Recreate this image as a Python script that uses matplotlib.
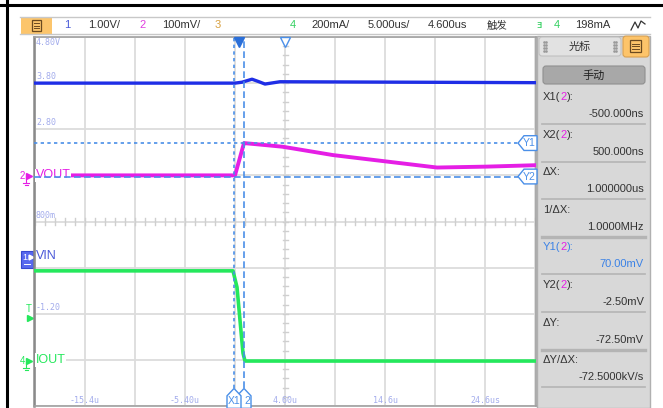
import numpy as np
import matplotlib
matplotlib.use('Agg')
import matplotlib.pyplot as plt
from matplotlib.patches import Rectangle, FancyBboxPatch, Polygon

W, H = 663, 408
NARROW = ['Liberation Sans Narrow', 'Liberation Sans', 'DejaVu Sans']
CJK = ['Noto Sans CJK SC', 'DejaVu Sans']
MONO = ['DejaVu Sans Mono']

# scope settings
t_per_div = 5.0          # us/div
t_delay = 4.6            # us, centre of screen
ch1_scale, ch1_pos = 1.0, -0.8     # V/div, ground position (div)
ch2_scale, ch2_pos = 100.0, 1.0    # mV/div
ch4_scale, ch4_pos = 200.0, -3.0   # mA/div
trig_level = 198.0                 # mA

# traces (time in us)
vin_t = [-20.4, -0.4, 0.3, 1.3, 2.0, 2.6, 4.1, 29.6]
vin_v = [3.80, 3.80, 3.82, 3.885, 3.83, 3.78, 3.83, 3.81]
vout_t = [-17.4, -0.4, 0.5, 2.0, 4.4, 9.4, 14.4, 19.8, 24.8, 29.6]
vout_mv = [0.0, 0.0, 70.0, 67.0, 62.0, 44.0, 31.0, 17.0, 19.0, 22.0]
iout_t = [-20.4, -0.6, -0.2, 0.1, 0.4, 0.6, 29.6]
iout_ma = [386.0, 386.0, 315.0, 172.0, 29.0, -5.0, -5.0]

# cursors
x1_us, x2_us = -0.5, 0.5
y1_mv, y2_mv = 70.0, -2.5

ch1_labels = ['4.80V', '3.80', '2.80', '800m', '-1.20']
ch1_label_div = [4, 3, 2, 0, -2]
time_labels = ['-15.4u', '-5.40u', '4.60u', '14.6u', '24.6us']

toolbar_text = ['1', '1.00V/', '2', '100mV/', '3', '4', '200mA/', '5.000us/', '4.600us', '4', '198mA']
toolbar_x = [67, 104, 143, 181, 218, 293, 331, 389, 447, 557, 593]
toolbar_col = ['#4b5bd8', '#333333', '#e03ee0', '#333333', '#d8a040', '#33d060',
               '#333333', '#333333', '#333333', '#33d060', '#333333']

cursor_names = ['X1', 'X2', 'ΔX:', '1/ΔX:', 'Y1', 'Y2', 'ΔY:', 'ΔY/ΔX:']
cursor_values = ['-500.000ns', '500.000ns', '1.000000us', '1.0000MHz',
                 '70.00mV', '-2.50mV', '-72.50mV', '-72.5000kV/s']

BLUE1 = '#1f2ee6'
MAG = '#e51ee5'
GREEN = '#25e85c'
CUR = '#4a8fe8'
LAV = '#a3acec'


def px2t(px):
    return t_delay - 5 * t_per_div + (px - 35) / 10.0


fig = plt.figure(figsize=(W / 100, H / 100), dpi=100)
fig.patch.set_facecolor('white')
renderer = fig.canvas.get_renderer()

# ---- overlay in pixel coordinates
ov = fig.add_axes([0, 0, 1, 1])
ov.set_xlim(0, W)
ov.set_ylim(H, 0)
ov.axis('off')

# frame lines of the page
ov.plot([0, W], [5, 5], color='black', lw=2.2)
ov.plot([7, 7], [0, H], color='black', lw=2.2)

# toolbar
ov.plot([20, 650], [17, 17], color='#c8c8c8', lw=1)
ov.plot([20, 650], [34, 34], color='#c8c8c8', lw=1)
ov.add_patch(Rectangle((21, 17), 31, 17, fc='#fcc56c', ec='none'))
ov.add_patch(Rectangle((32, 20), 9, 11, fc='none', ec='#6b4a20', lw=0.9))
for yy in (23, 25.5, 28):
    ov.plot([34, 39], [yy, yy], color='#6b4a20', lw=0.7)
for s, x, c in zip(toolbar_text, toolbar_x, toolbar_col):
    ov.text(x, 25.5, s, color=c, fontsize=8, family=NARROW, ha='center', va='center')
ov.text(497, 25.5, '触发', color='#333333', fontsize=7.5, family=CJK, ha='center', va='center')
ov.text(539, 25.5, 'ⱻ', color='#33d060', fontsize=8, family=['DejaVu Sans'], ha='center', va='center')
ov.plot([631, 635, 638, 641, 645], [30, 22, 28, 21, 24], color='#333333', lw=0.9)

# side panel
ov.add_patch(Rectangle((537, 36), 113, H - 36, fc='#d8d8d8', ec='#b0b0b0', lw=1))
ov.add_patch(FancyBboxPatch((539, 37), 82, 19, boxstyle='round,pad=0,rounding_size=3',
                            fc='#e2e2e2', ec='#c0c0c0', lw=0.8))
ov.add_patch(FancyBboxPatch((623, 36), 26, 21, boxstyle='round,pad=0,rounding_size=3',
                            fc='#fdc46a', ec='#d8a050', lw=0.8))
ov.add_patch(Rectangle((630, 40), 11, 12, fc='none', ec='#6b4a20', lw=0.9))
for yy in (43.5, 46, 48.5):
    ov.plot([632, 639], [yy, yy], color='#6b4a20', lw=0.7)
ov.text(580, 47, '光标', color='#333333', fontsize=8, family=CJK, ha='center', va='center')
for gx in (544, 614):
    for gy in (42, 45, 48, 51):
        ov.plot([gx, gx + 2], [gy, gy], ls='none', marker='s', ms=0.8, color='#999999')
ov.add_patch(FancyBboxPatch((543, 66), 102, 18, boxstyle='round,pad=0,rounding_size=3',
                            fc='#a8a8a8', ec='#909090', lw=0.8))
ov.text(594, 75.5, '手动', color='#222222', fontsize=8, family=CJK, ha='center', va='center')

row0 = 97
row_h = 37.6
for i, (nm, val) in enumerate(zip(cursor_names, cursor_values)):
    yl = row0 + i * row_h
    col = '#3b82e6' if i == 4 else '#333333'
    if nm in ('X1', 'X2', 'Y1', 'Y2'):
        x = 543
        for part, c in ((nm + '(', col), ('2', MAG), ('):', col)):
            tx = ov.text(x, yl, part, color=c, fontsize=8, family=NARROW, ha='left', va='center')
            x += tx.get_window_extent(renderer).width + 0.3
    else:
        ov.text(543, yl, nm, color='#333333', fontsize=8, family=NARROW, ha='left', va='center')
    ov.text(644, yl + 17, val, color=col, fontsize=8, family=NARROW, ha='right', va='center')
    lw = 2.4 if i in (3, 6) else 1.2
    ov.plot([542, 645], [yl + 27, yl + 27], color='#b4b4b4', lw=lw)

# channel markers on the left
ov.text(22, 176, '2', color=MAG, fontsize=7, family=NARROW, ha='center', va='center')
ov.plot([29], [176], marker='>', ms=4, color=MAG)
ov.plot([26, 26], [176, 183], color=MAG, lw=0.8)
ov.plot([23, 29], [183, 183], color=MAG, lw=0.8)
ov.plot([24.5, 27.5], [185, 185], color=MAG, lw=0.8)

ov.add_patch(Rectangle((21, 251), 12, 17, fc='#5868ee', ec='#3848d0', lw=0.8))
ov.text(25, 257, '1', color='white', fontsize=6.5, family=NARROW, ha='center', va='center')
ov.plot([31], [257], marker='>', ms=3.5, color='white')
ov.plot([24, 30], [264, 264], color='white', lw=0.7)

ov.text(29, 309, 'T', color=GREEN, fontsize=7, family=NARROW, ha='center', va='center')
ov.plot([30], [318], marker='>', ms=4, color=GREEN)

ov.text(22, 361, '4', color=GREEN, fontsize=7, family=NARROW, ha='center', va='center')
ov.plot([29], [361], marker='>', ms=4, color=GREEN)
ov.plot([26, 26], [361, 368], color=GREEN, lw=0.8)
ov.plot([23, 29], [368, 368], color=GREEN, lw=0.8)
ov.plot([24.5, 27.5], [370, 370], color=GREEN, lw=0.8)

# ---- scope screen
t0 = px2t(34)
t1 = px2t(536)
ax = fig.add_axes([34 / W, 2 / H, 502 / W, 369 / H])
ax.set_facecolor('white')
ax.set_xlim(t0, t1)
ax.set_ylim(-4, 4)
ax.set_xticks([])
ax.set_yticks([])
for side in ('top', 'bottom', 'right'):
    ax.spines[side].set_color('#a0a0a0')
    ax.spines[side].set_linewidth(1.2)
ax.spines['left'].set_color('#8a8a8a')
ax.spines['left'].set_linewidth(1.8)

grid_col = '#dcdcdc'
for k in range(11):
    ax.axvline(t_delay + (k - 5) * t_per_div, color=grid_col, lw=1.3, zorder=0)
for j in range(-4, 5):
    ax.axhline(j, color=grid_col, lw=1.3, zorder=0)
for k in range(51):
    tt = t_delay + (k - 25) * t_per_div / 5
    ax.plot([tt, tt], [-0.08, 0.08], color='#cfcfcf', lw=1, zorder=0)
for j in range(41):
    yy = -4 + j * 0.2
    ax.plot([t_delay - 0.25, t_delay + 0.25], [yy, yy], color='#cfcfcf', lw=1, zorder=0)

for s, j in zip(ch1_labels, ch1_label_div):
    va = 'top' if j == 4 else 'bottom'
    yy = 3.97 if j == 4 else j + 0.04
    ax.text(t0 + 0.2, yy, s, color=LAV, fontsize=6, family=MONO, ha='left', va=va, zorder=1)
for k, s in enumerate(time_labels):
    ax.text(t_delay + (2 * k - 4) * t_per_div, -3.97, s, color=LAV, fontsize=6,
            family=MONO, ha='center', va='bottom', zorder=1)

# traces
ax.plot(vin_t, ch1_pos + np.array(vin_v) / ch1_scale, color=BLUE1, lw=2.4, zorder=3)
ax.plot(vout_t, ch2_pos + np.array(vout_mv) / ch2_scale, color=MAG, lw=2.8, zorder=3)
it = np.array(iout_t, dtype=float)
it[0] = t0
it[-1] = t1
ax.plot(it, ch4_pos + np.array(iout_ma) / ch4_scale, color=GREEN, lw=2.6, zorder=3)

# trace names
ax.text(t0 + 0.15, ch2_pos, 'VOUT', color=MAG, fontsize=9, family=NARROW, ha='left',
        va='center', zorder=4, bbox=dict(fc='white', ec='none', pad=0.5))
ax.text(t0 + 0.15, ch1_pos + 0.06, 'VIN', color='#4a58d8', fontsize=9, family=NARROW,
        ha='left', va='center', zorder=4)
ax.text(t0 + 0.15, ch4_pos, 'IOUT', color=GREEN, fontsize=9, family=NARROW, ha='left',
        va='center', zorder=4, bbox=dict(fc='white', ec='none', pad=0.5))

# cursors
y1d = ch2_pos + y1_mv / ch2_scale
y2d = ch2_pos + y2_mv / ch2_scale
tag_x = px2t(518)
ax.plot([t0, tag_x], [y1d, y1d], color=CUR, lw=1.2, ls=(0, (2, 2)), zorder=5)
ax.plot([t0, tag_x], [y2d, y2d], color=CUR, lw=1.2, ls=(0, (4, 2)), zorder=5)
ax.plot([x1_us, x1_us], [-3.62, 4], color=CUR, lw=1.2, ls=(0, (2, 2)), zorder=5)
ax.plot([x2_us, x2_us], [-3.62, 4], color=CUR, lw=1.2, ls=(0, (4, 2)), zorder=5)

for yd, lab in ((y1d, 'Y1'), (y2d, 'Y2')):
    ax.add_patch(Polygon([(tag_x, yd), (tag_x + 0.6, yd + 0.16), (t1 + 0.1, yd + 0.16),
                          (t1 + 0.1, yd - 0.16), (tag_x + 0.6, yd - 0.16)],
                         closed=True, fc='white', ec=CUR, lw=1, zorder=6, clip_on=False))
    ax.text(tag_x + 1.15, yd, lab, color=CUR, fontsize=7.5, family=NARROW,
            ha='center', va='center', zorder=7)

# X2 tag sits behind X1, only its "2" shows
for xc, lab, dx in ((x2_us, '2', 0.3), (x1_us, 'X1', 0.0)):
    ax.add_patch(Polygon([(xc, -3.62), (xc + 0.7, -3.78), (xc + 0.7, -4.05), (xc - 0.7, -4.05),
                          (xc - 0.7, -3.78)], closed=True, fc='white', ec=CUR, lw=1,
                         zorder=6, clip_on=False))
    ax.text(xc + dx, -3.9, lab, color=CUR, fontsize=7.5, family=NARROW, ha='center',
            va='center', zorder=7)

# trigger position and delay markers
ax.plot([0], [3.9], marker='v', ms=7, color='#2b6fd8', zorder=6, clip_on=False)
ax.plot([t_delay], [3.9], marker='v', ms=7, mfc='white', mec=CUR, mew=1, zorder=6, clip_on=False)

fig.savefig('out.png', dpi=100, facecolor='white')
